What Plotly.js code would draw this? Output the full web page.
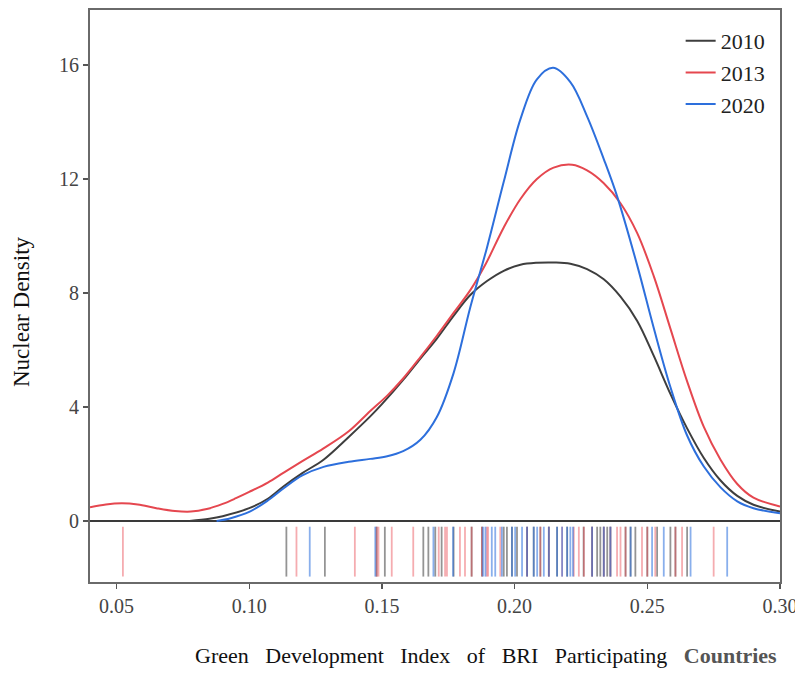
<!DOCTYPE html>
<html>
<head>
<meta charset="utf-8">
<script src="https://cdn.plot.ly/plotly-3.0.1.min.js"></script>
<style>
  html, body { margin: 0; padding: 0; background: #fff; }
  #chart { width: 795px; height: 673px; }
</style>
</head>
<body>
<div id="chart"></div>
<script>
// Kernel density curves of the green development index, by year
const years = ['2010', '2013', '2020'];

const x2010 = [0.0775, 0.085, 0.09, 0.10, 0.107, 0.113, 0.12, 0.128, 0.1375, 0.1456, 0.15, 0.158, 0.1645, 0.1707, 0.177, 0.1833, 0.1896, 0.1959, 0.2022, 0.2084, 0.2147, 0.221, 0.2273, 0.2336, 0.2399, 0.2462, 0.2524, 0.2587, 0.265, 0.2713, 0.2776, 0.2839, 0.29, 0.30];
const d2010 = [0.0, 0.08, 0.17, 0.45, 0.78, 1.22, 1.68, 2.15, 2.95, 3.67, 4.1, 4.95, 5.7, 6.4, 7.2, 7.93, 8.42, 8.78, 8.99, 9.06, 9.07, 9.03, 8.84, 8.48, 7.87, 7.02, 5.8, 4.46, 3.25, 2.21, 1.42, 0.88, 0.57, 0.33];

const x2013 = [0.04, 0.046, 0.052, 0.058, 0.065, 0.072, 0.078, 0.084, 0.09, 0.095, 0.10, 0.107, 0.113, 0.12, 0.128, 0.1375, 0.1456, 0.152, 0.158, 0.1645, 0.1707, 0.177, 0.1833, 0.189, 0.1959, 0.2022, 0.2084, 0.2147, 0.2217, 0.2273, 0.2336, 0.2399, 0.2462, 0.2524, 0.2587, 0.265, 0.2713, 0.2776, 0.2839, 0.29, 0.30];
const d2013 = [0.48, 0.58, 0.62, 0.58, 0.45, 0.35, 0.33, 0.42, 0.6, 0.8, 1.02, 1.35, 1.7, 2.1, 2.55, 3.15, 3.86, 4.4, 5.0, 5.75, 6.5, 7.3, 8.1, 9.0, 10.3, 11.3, 12.0, 12.4, 12.5, 12.3, 11.85, 11.15, 10.1, 8.6, 6.75, 4.9, 3.3, 2.15, 1.3, 0.82, 0.51];

const x2020 = [0.0877, 0.093, 0.10, 0.107, 0.113, 0.12, 0.128, 0.1375, 0.1456, 0.152, 0.158, 0.1645, 0.1707, 0.177, 0.1833, 0.1896, 0.1959, 0.2022, 0.2084, 0.2145, 0.221, 0.2273, 0.2336, 0.2386, 0.2462, 0.2524, 0.2587, 0.265, 0.2713, 0.2776, 0.2839, 0.29, 0.30];
const d2020 = [0.0, 0.1, 0.32, 0.72, 1.15, 1.6, 1.9, 2.08, 2.18, 2.27, 2.45, 2.85, 3.65, 5.19, 7.5, 9.6, 11.9, 14.1, 15.5, 15.9, 15.4, 14.2, 12.7, 11.4, 8.97, 6.78, 4.7, 3.0, 1.91, 1.18, 0.69, 0.45, 0.27];

// Country-level observations shown as a rug below the zero line
const obs2010 = [0.1140, 0.1285, 0.1480, 0.1511, 0.1656, 0.1675, 0.1701, 0.1725, 0.1770, 0.1838, 0.1877, 0.1959, 0.1971, 0.1990, 0.2009, 0.2047, 0.2072, 0.2097, 0.2129, 0.2160, 0.2198, 0.2260, 0.2292, 0.2311, 0.2323, 0.2336, 0.2349, 0.2361, 0.2418, 0.2437, 0.2455, 0.2500, 0.2537, 0.2587, 0.2606, 0.2650];
const obs2013 = [0.0524, 0.1178, 0.1398, 0.1480, 0.1487, 0.1537, 0.1618, 0.1714, 0.1738, 0.1745, 0.1794, 0.1813, 0.1838, 0.1877, 0.1895, 0.1900, 0.1946, 0.2047, 0.2097, 0.2129, 0.2179, 0.2223, 0.2242, 0.2261, 0.2292, 0.2336, 0.2361, 0.2386, 0.2399, 0.2418, 0.2480, 0.2500, 0.2530, 0.2606, 0.2631, 0.2750];
const obs2020 = [0.1228, 0.1475, 0.1694, 0.1768, 0.1881, 0.1890, 0.1914, 0.1927, 0.1952, 0.1990, 0.2002, 0.2028, 0.2047, 0.2072, 0.2085, 0.2110, 0.2129, 0.2160, 0.2179, 0.2198, 0.2210, 0.2220, 0.2292, 0.2336, 0.2361, 0.2437, 0.2518, 0.2562, 0.2663, 0.2801];

const xTicks = [0.05, 0.10, 0.15, 0.20, 0.25, 0.30];
const yTicks = [0, 4, 8, 12, 16];

const lineColors = ['#3e3e3e', '#e5474f', '#2d6fdc'];
const rugColors = ['rgba(60,60,60,0.55)', 'rgba(232,72,80,0.45)', 'rgba(40,110,220,0.55)'];

const curves = [[x2010, d2010], [x2013, d2013], [x2020, d2020]];
const rugs = [obs2010, obs2013, obs2020];

const SERIF = 'Liberation Serif, Times New Roman, serif';
const traces = [];

// rug ticks: one short vertical segment per observation
rugs.forEach((vals, i) => {
  const rx = [], ry = [];
  vals.forEach(v => { rx.push(v, v, null); ry.push(-0.2, -1.95, null); });
  traces.push({
    type: 'scatter', mode: 'lines', x: rx, y: ry,
    line: { color: rugColors[i], width: 1.8 },
    showlegend: false, hoverinfo: 'skip'
  });
});

curves.forEach(([xs, ys], i) => {
  traces.push({
    type: 'scatter', mode: 'lines', name: years[i], x: xs, y: ys,
    line: { color: lineColors[i], width: 2, shape: 'spline', smoothing: 1 }
  });
});

const gap = '\u00A0\u00A0\u00A0';
const xTitle = ['Green', 'Development', 'Index', 'of', 'BRI', 'Participating'].join(gap) + gap +
  "<span style='color:#555'><b>Countries</b></span>";

const layout = {
  width: 795, height: 673,
  margin: { l: 90, r: 15, t: 10, b: 91 },
  paper_bgcolor: '#fff', plot_bgcolor: '#fff',
  font: { family: SERIF, color: '#333' },
  showlegend: true,
  legend: {
    x: 0.985, xanchor: 'right', y: 0.9825, yanchor: 'top',
    bgcolor: 'rgba(0,0,0,0)', borderwidth: 0,
    font: { family: SERIF, size: 22, color: '#222' }
  },
  xaxis: {
    range: [0.04, 0.30],
    tickvals: xTicks, ticktext: xTicks.map(v => v.toFixed(2)),
    ticklabeloverflow: 'allow',
    ticks: 'outside', ticklen: 5, tickwidth: 1.2, tickcolor: '#555',
    tickfont: { family: SERIF, size: 20, color: '#444' },
    showline: true, linecolor: '#6a6a6a', linewidth: 2, mirror: true,
    showgrid: false, zeroline: false
  },
  yaxis: {
    range: [-2.14, 17.93],
    tickvals: yTicks, ticktext: yTicks.map(String),
    ticks: 'outside', ticklen: 5, tickwidth: 1.2, tickcolor: '#555',
    tickfont: { family: SERIF, size: 20, color: '#444' },
    showline: true, linecolor: '#6a6a6a', linewidth: 2, mirror: true,
    showgrid: false,
    zeroline: true, zerolinecolor: '#3a3a3a', zerolinewidth: 1.6
  },
  annotations: [
    {
      xref: 'paper', yref: 'paper', x: 0.574, y: -0.128,
      xanchor: 'center', yanchor: 'middle', showarrow: false,
      text: xTitle, font: { family: SERIF, size: 22, color: '#111' }
    },
    {
      xref: 'paper', yref: 'paper', x: -0.1, y: 0.472,
      xanchor: 'center', yanchor: 'middle', showarrow: false, textangle: -90,
      text: 'Nuclear Density', font: { family: SERIF, size: 23, color: '#111' }
    }
  ]
};

Plotly.newPlot('chart', traces, layout, { displayModeBar: false, staticPlot: true });
</script>
</body>
</html>
